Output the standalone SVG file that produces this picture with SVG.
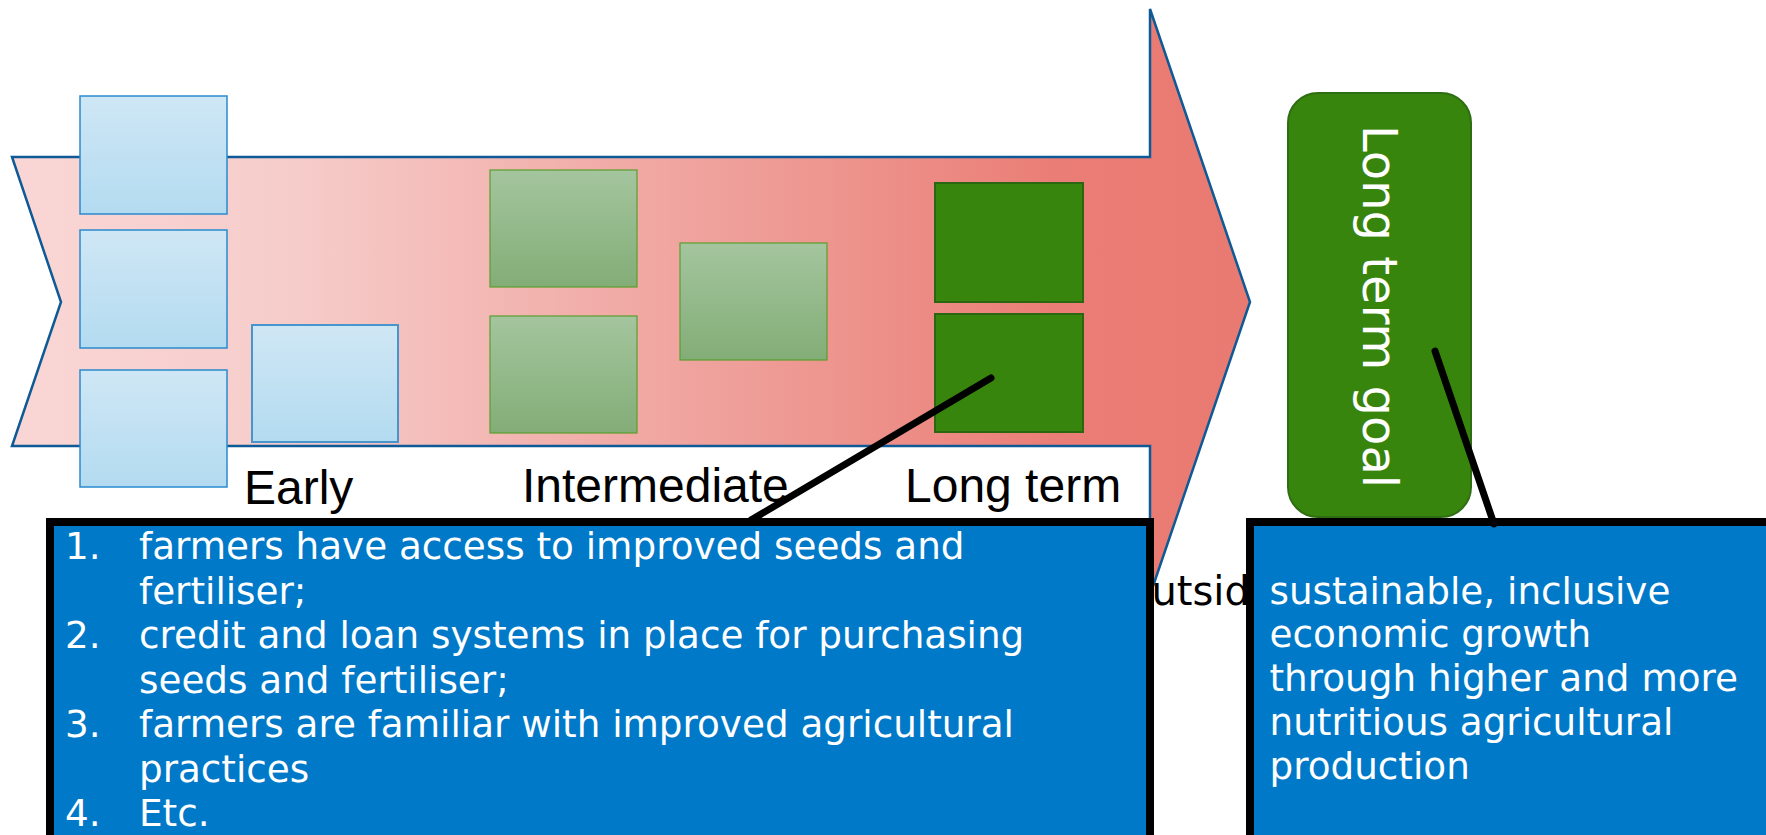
<svg xmlns="http://www.w3.org/2000/svg" width="1766" height="835" viewBox="0 0 1766 835">
<defs>
<linearGradient id="pink" x1="0" y1="0" x2="1" y2="0">
<stop offset="0" stop-color="#f9d6d5"/>
<stop offset="0.22" stop-color="#f6cdcb"/>
<stop offset="0.85" stop-color="#ea7d75"/>
<stop offset="1" stop-color="#e97a72"/>
</linearGradient>
<linearGradient id="blueG" x1="0" y1="0" x2="0" y2="1">
<stop offset="0" stop-color="#cfe7f5"/>
<stop offset="1" stop-color="#b3dbf0"/>
</linearGradient>
<linearGradient id="greenG" x1="0" y1="0" x2="0" y2="1">
<stop offset="0" stop-color="#a4c59e"/>
<stop offset="1" stop-color="#83ad77"/>
</linearGradient>
<style>
.b1{fill:url(#blueG);stroke:#2a8ad0;stroke-width:1.5}
.b2{fill:url(#blueG);stroke:#4795cc;stroke-width:2}
.g1{fill:url(#greenG);stroke:#5a9e2c;stroke-width:1.2}
.g2{fill:#38850e;stroke:#2b6611;stroke-width:2}
.lbl{font-family:"Liberation Sans",Arial,sans-serif;font-size:48px;fill:#000}
.tb{fill:#0079c8;stroke:#000;stroke-width:8}
.tt{font-family:"DejaVu Sans",Verdana,sans-serif;font-size:37.3px;fill:#fff}
.conn{stroke:#000;stroke-width:7;stroke-linecap:round;fill:none}
</style>
</defs>
<g id="arrow">
<polygon points="12,157 1150,157 1150,9 1250,302 1150,595 1150,446 12,446 61,302" fill="url(#pink)" stroke="#0e5a96" stroke-width="2.5" stroke-linejoin="miter"/>
</g>
<g id="early-1"><rect class="b1" x="80" y="96" width="147" height="118"/></g>
<g id="early-2"><rect class="b1" x="80" y="230" width="147" height="118"/></g>
<g id="early-3"><rect class="b1" x="80" y="370" width="147" height="117"/></g>
<g id="early-4"><rect class="b2" x="252" y="325" width="146" height="117"/></g>
<g id="inter-1"><rect class="g1" x="490" y="170" width="147" height="117"/></g>
<g id="inter-2"><rect class="g1" x="490" y="316" width="147" height="117"/></g>
<g id="inter-3"><rect class="g1" x="680" y="243" width="147" height="117"/></g>
<g id="long-1"><rect class="g2" x="935" y="183" width="148" height="119"/></g>
<g id="long-2"><rect class="g2" x="935" y="314" width="148" height="118"/></g>
<g id="labels">
<text class="lbl" x="244" y="504">Early</text>
<text class="lbl" x="522" y="502">Intermediate</text>
<text class="lbl" x="905" y="502">Long term</text>
</g>
<g id="outside"><text x="1120" y="605" font-family="'DejaVu Sans',Verdana,sans-serif" font-size="40" fill="#000">Outside</text></g>
<g id="goal">
<rect x="1288" y="93" width="183" height="424" rx="30" ry="30" fill="#38850e" stroke="#2f6d12" stroke-width="2"/>
<text transform="translate(1363,306.5) rotate(90)" text-anchor="middle" font-family="'DejaVu Sans',Verdana,sans-serif" font-size="48" fill="#fff">Long term goal</text>
</g>
<g id="box-outcomes">
<rect class="tb" x="50" y="522" width="1100" height="318"/>
<text class="tt" x="65" y="559">1.</text><text class="tt" x="139" y="559">farmers have access to improved seeds and</text>
<text class="tt" x="139" y="603.5">fertiliser;</text>
<text class="tt" x="65" y="648">2.</text><text class="tt" x="139" y="648">credit and loan systems in place for purchasing</text>
<text class="tt" x="139" y="692.5">seeds and fertiliser;</text>
<text class="tt" x="65" y="737">3.</text><text class="tt" x="139" y="737">farmers are familiar with improved agricultural</text>
<text class="tt" x="139" y="781.5">practices</text>
<text class="tt" x="65" y="826">4.</text><text class="tt" x="139" y="826">Etc.</text>
</g>
<g id="box-goal">
<rect class="tb" x="1250" y="522" width="530" height="318"/>
<text class="tt" x="1269.5" y="603.5">sustainable, inclusive</text>
<text class="tt" x="1269.5" y="647.2">economic growth</text>
<text class="tt" x="1269.5" y="691">through higher and more</text>
<text class="tt" x="1269.5" y="734.7">nutritious agricultural</text>
<text class="tt" x="1269.5" y="778.5">production</text>
</g>
<g id="connectors">
<line class="conn" x1="991" y1="378" x2="751" y2="520"/>
<line class="conn" x1="1435" y1="351" x2="1494" y2="524"/>
</g>
</svg>
